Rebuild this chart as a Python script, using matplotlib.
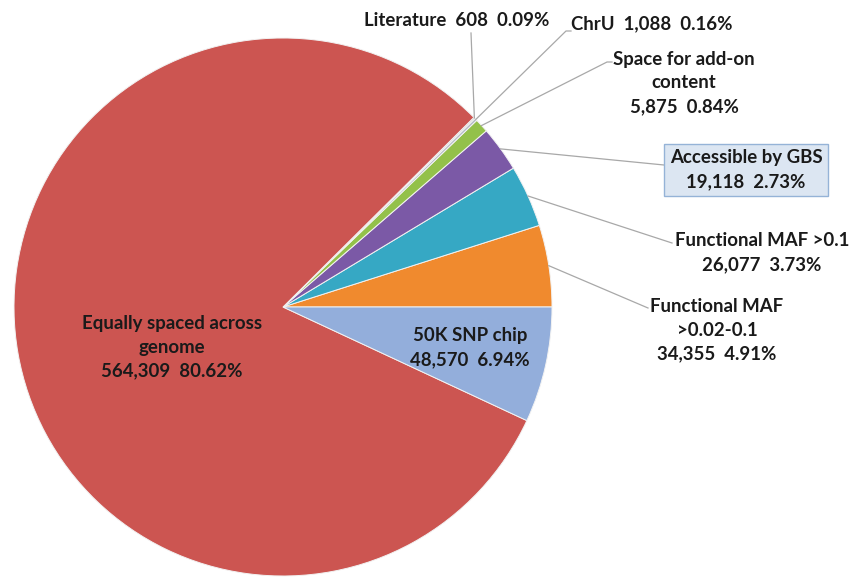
import matplotlib
matplotlib.use("Agg")
import matplotlib.pyplot as plt
import numpy as np

# ---- data ----
categories = ["Functional MAF\n>0.02-0.1", "Functional MAF >0.1", "Accessible by GBS",
              "Space for add-on\ncontent", "ChrU", "Literature",
              "Equally spaced across\ngenome", "50K SNP chip"]
values = [34355, 26077, 19118, 5875, 1088, 608, 564309, 48570]
colors = ["#F08A2E", "#36A8C4", "#7B59A6", "#93C14A", "#B4BCC6", "#C4C4C4",
          "#CC5551", "#93AEDB"]

W, H = 858, 582
fig = plt.figure(figsize=(W / 100, H / 100), dpi=100)
ax = fig.add_axes([0, 0, 1, 1])

cx, cy, R = 283, H - 307, 269
wedges, _ = ax.pie(values, colors=colors, startangle=0, counterclock=True,
                   center=(cx, cy), radius=R, frame=True,
                   wedgeprops=dict(edgecolor="#F2F2F2", linewidth=0.7))
ax.set_xlim(0, W)
ax.set_ylim(0, H)
ax.set_aspect("equal")
ax.axis("off")

total = sum(values)
def lab(i, sep="\n"):
    return f"{categories[i]}{sep}{values[i]:,}  {values[i] / total * 100:.2f}%"

font = dict(family=["Lato", "DejaVu Sans"], weight="bold", fontsize=13.4,
            color="#1A1A1A", linespacing=1.5)

def P(x, y):
    return x, H - y

def edge_pt(w, r=R):
    a = np.deg2rad((w.theta1 + w.theta2) / 2)
    return cx + r * np.cos(a), cy + r * np.sin(a)

# label positions (pixel coords: center x, center y) and leader end points
outside = {
    5: ((457, 20), [(471, 33)], "  "),
    4: ((652, 24), [(566, 31), (571, 31)], "  "),
    3: ((684, 83), [(607, 62), (612, 62)], "\n"),
    2: ((746, 170), [(664, 165)], "\n"),
    1: ((762, 253), [(672, 243)], "\n"),
    0: ((717, 330), [(648, 308)], "\n"),
}
for i, (tp, ends, sep) in outside.items():
    sx, sy = edge_pt(wedges[i])
    xs = [sx] + [P(*e)[0] for e in ends]
    ys = [sy] + [P(*e)[1] for e in ends]
    ax.plot(xs, ys, color="#A8A8A8", lw=0.9, zorder=3)
    kw = dict(font)
    if i == 2:
        kw["bbox"] = dict(boxstyle="square,pad=0.3", facecolor="#DCE6F2",
                          edgecolor="#95B3D7", linewidth=1.0)
    ax.text(*P(*tp), lab(i, sep), ha="center", va="center", zorder=4, **kw)

# inside labels
ax.text(*P(470, 348), lab(7), ha="center", va="center", zorder=4, **font)
ax.text(*P(172, 347), lab(6), ha="center", va="center", zorder=4, **font)

fig.savefig("out.png", dpi=100, facecolor="white")
